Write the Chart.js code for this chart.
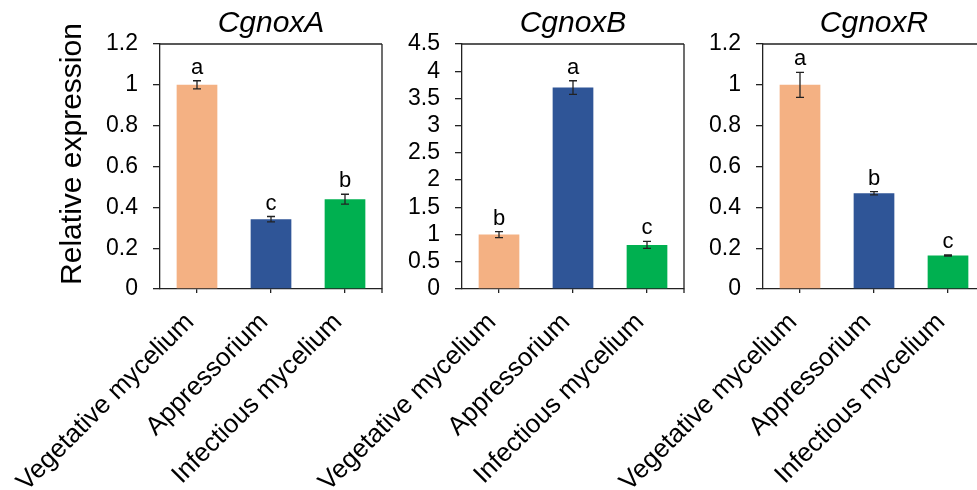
<!DOCTYPE html>
<html>
<head>
<meta charset="utf-8">
<script src="https://cdn.jsdelivr.net/npm/chart.js@4.4.1/dist/chart.umd.min.js"></script>
<style>
  html, body { margin: 0; padding: 0; background: #fff; overflow: hidden; }
  #wrap { position: relative; width: 977px; height: 490px; overflow: hidden; }
  #wrap canvas { position: absolute; top: 0; }
</style>
</head>
<body>
<div id="wrap">
  <canvas id="chartA" width="400" height="490" style="left:0px"></canvas>
  <canvas id="chartB" width="400" height="490" style="left:302px"></canvas>
  <canvas id="chartR" width="400" height="490" style="left:603px"></canvas>
</div>
<script>
// donnees
const categories = ['Vegetative mycelium', 'Appressorium', 'Infectious mycelium'];
const barColors = ['#F4B183', '#2F5597', '#00B050'];

const noxA = [1.0, 0.342, 0.44];
const noxAErr = [0.02, 0.013, 0.024];
const noxALetters = ['a', 'c', 'b'];
const noxATicks = { max: 1.2, step: 0.2 };

const noxB = [1.0, 3.70, 0.81];
const noxBErr = [0.055, 0.125, 0.065];
const noxBLetters = ['b', 'a', 'c'];
const noxBTicks = { max: 4.5, step: 0.5 };

const noxR = [1.0, 0.469, 0.164];
const noxRErr = [0.061, 0.008, 0.003];
const noxRLetters = ['a', 'b', 'c'];
const noxRTicks = { max: 1.2, step: 0.2 };

const FONT = "'Liberation Sans', Arial, sans-serif";
const LINE = '#222';

// barres d'erreur + lettres + cadre
const extras = {
    id: 'extras',
    afterDatasetsDraw(chart, args, opts) {
        const {ctx, chartArea: a, scales: {x, y}} = chart;
        ctx.save();
        ctx.strokeStyle = LINE;
        ctx.lineWidth = 1.3;
        ctx.beginPath();
        ctx.moveTo(a.left, a.top);
        ctx.lineTo(a.right, a.top);
        ctx.moveTo(a.right, a.top);
        ctx.lineTo(a.right, a.bottom + 4);
        ctx.stroke();

        const vals = chart.data.datasets[0].data;
        ctx.fillStyle = '#000';
        ctx.font = '22px ' + FONT;
        ctx.textAlign = 'center';
        ctx.textBaseline = 'alphabetic';
        vals.forEach((v, i) => {
            const cx = x.getPixelForValue(i);
            const hi = y.getPixelForValue(v + opts.err[i]);
            const lo = y.getPixelForValue(v - opts.err[i]);
            ctx.beginPath();
            ctx.moveTo(cx, hi); ctx.lineTo(cx, lo);
            ctx.moveTo(cx - 4, hi); ctx.lineTo(cx + 4, hi);
            ctx.moveTo(cx - 4, lo); ctx.lineTo(cx + 4, lo);
            ctx.stroke();
            ctx.fillText(opts.letters[i], cx, hi - 7);
        });
        ctx.restore();
    }
};

function makePanel(id, name, values, err, letters, ticks, yTitle) {
    const ctx = document.getElementById(id).getContext('2d');
    return new Chart(ctx, {
        type: 'bar',
        data: {
            labels: categories,
            datasets: [{
                label: name,
                data: values,
                backgroundColor: barColors,
                borderWidth: 0,
                barPercentage: 0.55,
                categoryPercentage: 1.0
            }]
        },
        options: {
            responsive: false,
            animation: false,
            devicePixelRatio: 1,
            layout: { padding: { left: 0, right: 18, top: 0, bottom: 0 } },
            plugins: {
                legend: { display: false },
                tooltip: { enabled: false },
                title: {
                    display: true,
                    text: name,
                    fullSize: false,
                    color: '#000',
                    font: { family: FONT, size: 30, style: 'italic', weight: 'normal', lineHeight: 1.2 },
                    padding: { top: 6, bottom: 2 }
                },
                extras: { err: err, letters: letters }
            },
            scales: {
                x: {
                    grid: { display: true, drawOnChartArea: false, drawTicks: true, tickLength: 4, offset: false, color: LINE, lineWidth: 1.3 },
                    border: { display: true, color: LINE, width: 1.3 },
                    ticks: {
                        color: '#000',
                        font: { family: FONT, size: 26 },
                        minRotation: 45, maxRotation: 45,
                        autoSkip: false,
                        padding: 14,
                        labelOffset: -7
                    },
                    afterFit(scale) {
                        scale.height = 201;
                        scale.paddingLeft = 0;
                        scale.paddingRight = 0;
                    }
                },
                y: {
                    min: 0,
                    max: ticks.max,
                    grid: { display: true, drawOnChartArea: false, drawTicks: true, tickLength: 7, color: LINE, lineWidth: 1.3 },
                    border: { display: true, color: LINE, width: 1.3 },
                    ticks: {
                        stepSize: ticks.step,
                        autoSkip: false,
                        color: '#000',
                        font: { family: FONT, size: 23 },
                        padding: 15,
                        callback: (v) => String(Number(v.toFixed(2)))
                    },
                    title: {
                        display: !!yTitle,
                        text: yTitle || '',
                        color: '#000',
                        font: { family: FONT, size: 30, lineHeight: 1.2 },
                        padding: { top: 55, bottom: 0 }
                    },
                    afterFit(scale) { scale.width = 160; }
                }
            }
        },
        plugins: [extras]
    });
}

document.addEventListener('DOMContentLoaded', function () {
    makePanel('chartA', 'CgnoxA', noxA, noxAErr, noxALetters, noxATicks, '   Relative expression');
    makePanel('chartB', 'CgnoxB', noxB, noxBErr, noxBLetters, noxBTicks, null);
    makePanel('chartR', 'CgnoxR', noxR, noxRErr, noxRLetters, noxRTicks, null);
});
</script>
</body>
</html>
